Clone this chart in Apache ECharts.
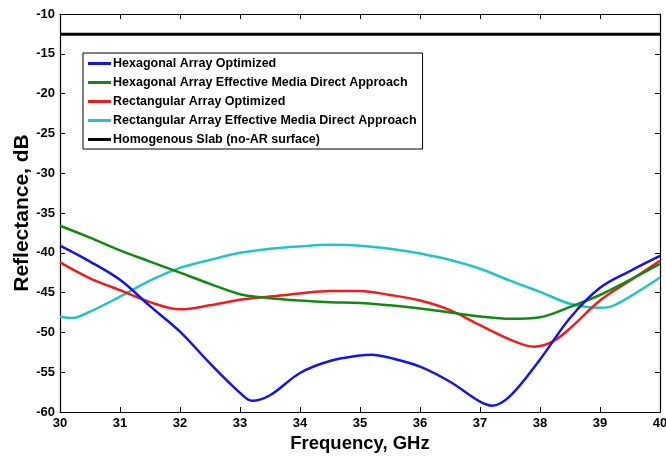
<!DOCTYPE html>
<html><head><meta charset="utf-8">
<script src="https://cdn.jsdelivr.net/npm/echarts@6/dist/echarts.min.js"></script>
<style>html,body{margin:0;padding:0;background:#fff}#c{width:666px;height:457px}</style>
</head><body><div id="c"></div>
<script>
const seriesNames = [
  'Hexagonal Array Optimized',
  'Hexagonal Array Effective Media Direct Approach',
  'Rectangular Array Optimized',
  'Rectangular Array Effective Media Direct Approach',
  'Homogenous Slab (no-AR surface)'
];
const colors = ['#1414e6', '#118a11', '#f01c1c', '#22c4c4', '#000000'];
const xTicks = [30, 31, 32, 33, 34, 35, 36, 37, 38, 39, 40];
const yTicks = [-60, -55, -50, -45, -40, -35, -30, -25, -20, -15, -10];

const hexOptF = [30, 30.5, 31, 31.5, 32, 32.5, 33, 33.2, 33.5, 34, 34.5, 35, 35.2, 35.5, 36, 36.5, 37, 37.2, 37.5, 38, 38.5, 39, 39.5, 40];
const hexOptV = [-39.1, -41.1, -43.4, -46.7, -49.9, -53.9, -57.6, -58.6, -57.9, -55.1, -53.6, -52.9, -52.8, -53.2, -54.3, -56.2, -58.7, -59.2, -58.0, -53.4, -48.2, -44.4, -42.3, -40.4];

const hexEffF = [30, 30.5, 31, 31.5, 32, 32.5, 33, 33.5, 34, 34.5, 35, 35.5, 36, 36.5, 37, 37.5, 38, 38.5, 39, 39.5, 40];
const hexEffV = [-36.6, -38.1, -39.7, -41.1, -42.5, -43.9, -45.2, -45.7, -46.0, -46.2, -46.3, -46.6, -47.0, -47.5, -48.0, -48.3, -48.1, -46.8, -45.3, -43.4, -41.4];

const rectOptF = [30, 30.5, 31, 31.5, 32, 32.5, 33, 33.5, 34, 34.5, 35, 35.5, 36, 36.5, 37, 37.5, 37.9, 38.2, 38.5, 39, 39.5, 40];
const rectOptV = [-41.2, -43.2, -44.7, -46.2, -47.1, -46.6, -45.9, -45.5, -45.1, -44.8, -44.8, -45.3, -46.0, -47.2, -49.1, -50.9, -51.8, -51.2, -49.5, -46.0, -43.5, -41.0];

const rectEffF = [30, 30.2, 30.5, 31, 31.5, 32, 32.5, 33, 33.5, 34, 34.5, 35, 35.5, 36, 36.5, 37, 37.5, 38, 38.5, 39, 39.2, 39.5, 40];
const rectEffV = [-48.0, -48.2, -47.4, -45.5, -43.5, -41.9, -40.9, -40.0, -39.5, -39.2, -39.0, -39.1, -39.5, -40.1, -40.9, -42.0, -43.5, -44.9, -46.4, -46.9, -46.7, -45.5, -43.1];

const slabF = [30, 40];
const slabV = [-12.55, -12.55];

const pairs = (f, v) => f.map((x, i) => [x, v[i]]);
const allData = [pairs(hexOptF, hexOptV), pairs(hexEffF, hexEffV), pairs(rectOptF, rectOptV), pairs(rectEffF, rectEffV), pairs(slabF, slabV)];

const FONT = 'Liberation Sans, Arial, sans-serif';
const chart = echarts.init(document.getElementById('c'), null, {renderer: 'canvas'});
const axisLine = {show: true, lineStyle: {color: '#000', width: 1.2}};
const tickStyle = {show: true, inside: true, length: 5, lineStyle: {color: '#000', width: 1}};

chart.setOption({
  animation: false,
  backgroundColor: '#fff',
  grid: {left: 60, right: 6, top: 14, bottom: 45, containLabel: false, outerBoundsMode: 'none'},
  legend: {
    orient: 'vertical', left: 83, top: 53,
    data: seriesNames,
    icon: 'rect', itemWidth: 23, itemHeight: 3, itemGap: 6,
    borderColor: '#000', borderWidth: 1, backgroundColor: '#fff',
    padding: [4, 6, 3, 5],
    textStyle: {fontFamily: FONT, fontWeight: 'bold', fontSize: 12.5, color: '#000', padding: [0, 0, 0, -3]}
  },
  xAxis: [{
    type: 'value', min: 30, max: 40, interval: 1, position: 'bottom',
    name: 'Frequency, GHz', nameLocation: 'middle', nameGap: 22,
    nameTextStyle: {fontFamily: FONT, fontWeight: 'bold', fontSize: 18.5, color: '#000'},
    axisLine: axisLine, axisTick: tickStyle, splitLine: {show: false},
    axisLabel: {fontFamily: FONT, fontWeight: 'bold', fontSize: 13, color: '#000', margin: 5, formatter: v => String(v)}
  }, {
    type: 'value', min: 30, max: 40, interval: 1, position: 'top',
    axisLine: axisLine, axisTick: tickStyle, axisLabel: {show: false}, splitLine: {show: false}
  }],
  yAxis: [{
    type: 'value', min: -60, max: -10, interval: 5, position: 'left',
    name: 'Reflectance, dB', nameLocation: 'middle', nameGap: 27, nameMoveOverlap: false,
    nameTextStyle: {fontFamily: FONT, fontWeight: 'bold', fontSize: 21, color: '#000'},
    axisLine: axisLine, axisTick: tickStyle, splitLine: {show: false},
    axisLabel: {fontFamily: FONT, fontWeight: 'bold', fontSize: 13, color: '#000', margin: 5, formatter: v => String(v)}
  }, {
    type: 'value', min: -60, max: -10, interval: 5, position: 'right',
    axisLine: axisLine, axisTick: tickStyle, axisLabel: {show: false}, splitLine: {show: false}
  }],
  series: allData.map((d, i) => ({
    name: seriesNames[i], type: 'line', data: d,
    xAxisIndex: 0, yAxisIndex: 0,
    smooth: i === 4 ? false : 0.35,
    showSymbol: false, symbol: 'none',
    z: i === 4 ? 1 : 5 - i,
    lineStyle: {color: colors[i], width: i === 4 ? 3 : 2.5},
    itemStyle: {color: colors[i]}
  }))
});
</script></body></html>
